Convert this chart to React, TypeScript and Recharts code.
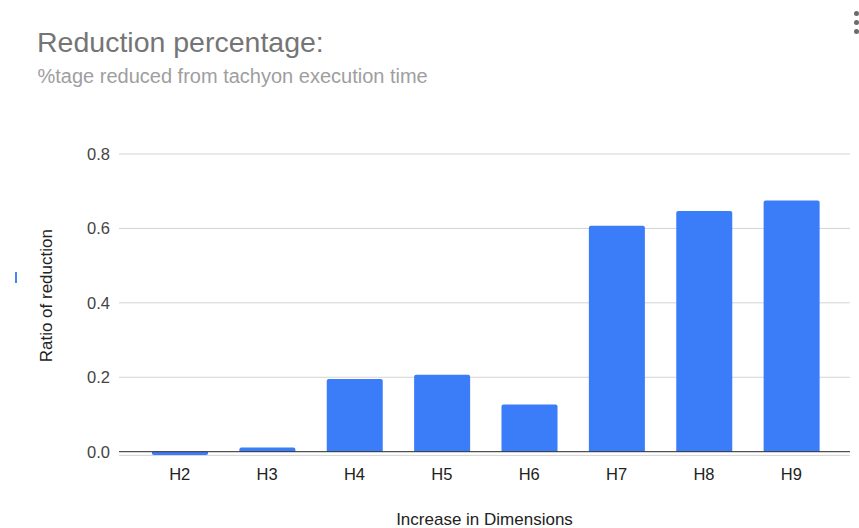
import React from 'react';
import { BarChart, Bar, XAxis, YAxis, CartesianGrid, ReferenceLine } from 'recharts';

// Ratio of execution time saved relative to tachyon, per dimension setting
const categories = ['H2', 'H3', 'H4', 'H5', 'H6', 'H7', 'H8', 'H9'];
const reduction = [-0.009, 0.011, 0.195, 0.207, 0.127, 0.607, 0.647, 0.675];
const yTicks = [0, 0.2, 0.4, 0.6, 0.8];

const titleText = 'Reduction percentage:';
const subtitleText = '%tage reduced from tachyon execution time';
const xTitle = 'Increase in Dimensions';
const yTitle = 'Ratio of reduction';

const data = categories.map((name, i) => ({ name, value: reduction[i] }));

const FONT = '"Liberation Sans", Arial, Helvetica, sans-serif';
const BAR_BLUE = '#3b7cf8';

function YAxisTitle(props: any) {
  const vb = props.viewBox;
  const x = vb.x - 6.5;
  const y = vb.y + vb.height / 2 - 9;
  return (
    <text
      x={x}
      y={y}
      transform={`rotate(-90, ${x}, ${y})`}
      textAnchor="middle"
      fontSize={17}
      fill="#222"
      fontFamily={FONT}
    >
      {yTitle}
    </text>
  );
}

function XAxisTitle(props: any) {
  const vb = props.viewBox;
  return (
    <text
      x={vb.x + vb.width / 2}
      y={vb.y + vb.height - 3}
      textAnchor="middle"
      fontSize={17}
      fill="#222"
      fontFamily={FONT}
    >
      {xTitle}
    </text>
  );
}

export default function App() {
  return (
    <div
      style={{
        position: 'absolute',
        left: 0,
        top: 0,
        width: 859,
        height: 528,
        background: '#fff',
        fontFamily: FONT,
        overflow: 'hidden',
      }}
    >
      <div
        style={{
          position: 'absolute',
          left: 37,
          top: 28,
          fontSize: 28.5,
          lineHeight: '28.5px',
          color: '#757575',
          whiteSpace: 'nowrap',
        }}
      >
        {titleText}
      </div>
      <div
        style={{
          position: 'absolute',
          left: 37.5,
          top: 65.8,
          fontSize: 20,
          lineHeight: '20px',
          color: '#9e9e9e',
          whiteSpace: 'nowrap',
        }}
      >
        {subtitleText}
      </div>

      {/* overflow menu */}
      {[13.5, 22.5, 31.5].map((cy) => (
        <div
          key={cy}
          style={{
            position: 'absolute',
            left: 853.5,
            top: cy - 2.5,
            width: 5,
            height: 5,
            borderRadius: '50%',
            background: '#6b6b6b',
          }}
        />
      ))}

      {/* legend marker stub */}
      <div
        style={{
          position: 'absolute',
          left: 15,
          top: 272,
          width: 1.5,
          height: 11,
          background: '#4285f4',
        }}
      />

      <div style={{ position: 'absolute', left: 0, top: 0 }}>
        <BarChart
          width={859}
          height={528}
          data={data}
          margin={{ top: 154, right: 9, bottom: 0, left: 59 }}
          style={{ fontFamily: FONT }}
        >
          <CartesianGrid vertical={false} stroke="#d4d4d4" strokeWidth={1} />
          <XAxis
            dataKey="name"
            height={72.6}
            axisLine={false}
            tickLine={false}
            tickSize={0}
            tickMargin={12.5}
            interval={0}
            padding={{ left: 17, right: 15 }}
            tick={{ fontSize: 16.5, fill: '#222', fontFamily: FONT }}
            label={<XAxisTitle />}
          />
          <YAxis
            width={60}
            domain={[-0.01, 0.8]}
            ticks={yTicks}
            axisLine={false}
            tickLine={false}
            tickSize={0}
            tickMargin={9}
            tickFormatter={(v: number) => v.toFixed(1)}
            tick={{ fontSize: 16.5, fill: '#444', fontFamily: FONT }}
            label={<YAxisTitle />}
          />
          <Bar
            dataKey="value"
            fill={BAR_BLUE}
            barSize={56}
            radius={[2, 2, 0, 0]}
            isAnimationActive={false}
          />
          <ReferenceLine y={0} stroke="#333" strokeWidth={1} />
        </BarChart>
      </div>
    </div>
  );
}
